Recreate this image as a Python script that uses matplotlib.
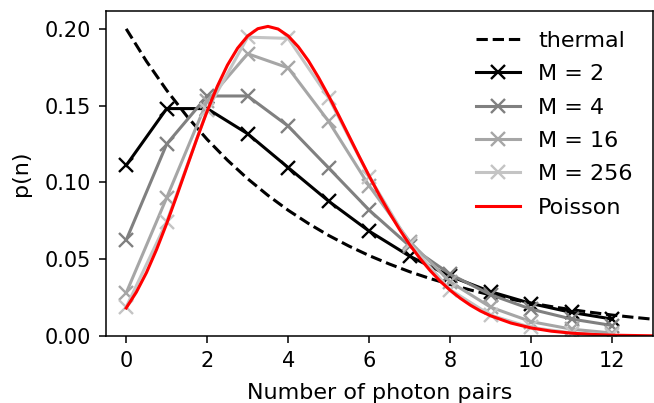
import matplotlib
matplotlib.use("Agg")
from matplotlib import pyplot as plt
import numpy as np

# thermal distribution (dashed, smooth)
x_thermal = np.arange(0, 13.01, 0.5)
p_thermal = [0.2000, 0.1789, 0.1600, 0.1431, 0.1280, 0.1145, 0.1024, 0.0916,
             0.0819, 0.0733, 0.0655, 0.0586, 0.0524, 0.0469, 0.0419, 0.0375,
             0.0336, 0.0300, 0.0268, 0.0240, 0.0215, 0.0192, 0.0172, 0.0154,
             0.0137, 0.0123, 0.0110]

# multimode thermal, integer photon numbers
n = np.arange(0, 13)
p_m2 = [0.1111, 0.1481, 0.1481, 0.1317, 0.1097, 0.0878, 0.0683, 0.0520,
        0.0390, 0.0289, 0.0212, 0.0154, 0.0111]
p_m4 = [0.0625, 0.1250, 0.1563, 0.1563, 0.1367, 0.1094, 0.0820, 0.0586,
        0.0403, 0.0269, 0.0175, 0.0111, 0.0069]
p_m16 = [0.0281, 0.0901, 0.1531, 0.1838, 0.1746, 0.1397, 0.0978, 0.0615,
         0.0353, 0.0188, 0.0094, 0.0045, 0.0020]
p_m256 = [0.0189, 0.0744, 0.1471, 0.1946, 0.1938, 0.1551, 0.1038, 0.0598,
          0.0302, 0.0136, 0.0056, 0.0021, 0.0007]

# Poisson (smooth red curve)
x_poisson = [0, 0.25, 0.5, 0.75, 1, 1.25, 1.5, 1.75, 2, 2.25, 2.5, 2.75, 3,
             3.25, 3.5, 3.75, 4, 4.25, 4.5, 4.75, 5, 5.25, 5.5, 5.75, 6,
             6.25, 6.5, 6.75, 7, 7.25, 7.5, 7.75, 8, 8.25, 8.5, 8.75, 9,
             9.5, 10, 10.5, 11, 11.5, 12, 12.5, 13]
p_poisson = [0.0183, 0.0286, 0.0413, 0.0564, 0.0733, 0.0915, 0.1102, 0.1288,
             0.1465, 0.1626, 0.1764, 0.1874, 0.1954, 0.2001, 0.2016, 0.1999,
             0.1954, 0.1883, 0.1792, 0.1683, 0.1563, 0.1435, 0.1303, 0.1171,
             0.1042, 0.0918, 0.0802, 0.0694, 0.0595, 0.0507, 0.0428, 0.0358,
             0.0298, 0.0246, 0.0201, 0.0163, 0.0132, 0.0085, 0.0053, 0.0032,
             0.0019, 0.0011, 0.0006, 0.0004, 0.0002]

modes = [("M = 2", p_m2, "#000000"),
         ("M = 4", p_m4, "#808080"),
         ("M = 16", p_m16, "#a6a6a6"),
         ("M = 256", p_m256, "#c4c4c4")]

plt.rcParams["font.size"] = 15

fig = plt.figure(figsize=(6.54, 4.03), dpi=100)
ax = fig.add_axes([0.162, 0.166, 0.836, 0.807])

ax.plot(x_thermal, p_thermal, "k--", lw=2.2, label="thermal")
for label, p, c in modes:
    ax.plot(n, p, color=c, marker="x", ms=10, mew=1.7, lw=2.2, label=label)
ax.plot(x_poisson, p_poisson, color="red", lw=2.2, label="Poisson")

ax.set_xlim(-0.5, 13)
ax.set_ylim(0, 0.2117)
ax.set_xticks(np.arange(0, 13, 2))
ax.set_yticks([0, 0.05, 0.1, 0.15, 0.2])
ax.yaxis.set_major_formatter(matplotlib.ticker.FormatStrFormatter("%.2f"))
ax.tick_params(length=5, width=1.1, pad=5.5)
for s in ax.spines.values():
    s.set_linewidth(1.1)
ax.set_xlabel("Number of photon pairs", fontsize=16, labelpad=9)
ax.set_ylabel("p(n)", fontsize=16, labelpad=10)
ax.legend(frameon=False, loc="upper right", fontsize=16, labelspacing=0.6)

fig.savefig("out.png", dpi=100)
